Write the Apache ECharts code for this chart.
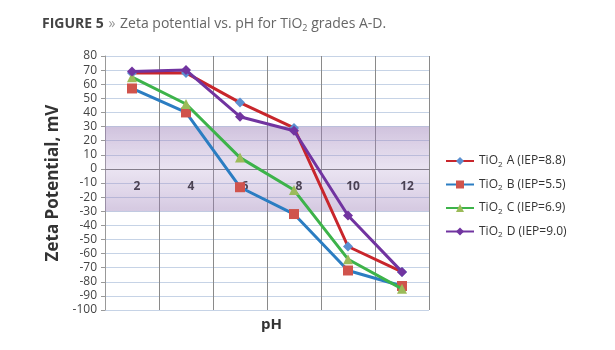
<!DOCTYPE html>
<html>
<head>
<meta charset="utf-8">
<script src="https://cdn.jsdelivr.net/npm/echarts@6/dist/echarts.min.js"></script>
<style>
html, body { margin: 0; padding: 0; background: #fff; }
#chart { width: 615px; height: 350px; }
</style>
</head>
<body>
<div id="chart"></div>
<script>
// pH categories
var phLabels = ['2', '4', '6', '8', '10', '12'];

// zeta potential (mV) per grade
var gradeA = [68, 68, 47, 29, -55, -73];
var gradeB = [57, 40, -13, -32, -72, -83];
var gradeC = [65, 46, 8, -15, -64, -85];
var gradeD = [69, 70, 37, 27, -33, -73];

var gradeNames = ['A (IEP=8.8)', 'B (IEP=5.5)', 'C (IEP=6.9)', 'D (IEP=9.0)'];

// shaded band limits
var bandTop = 30;
var bandBottom = -30;

var chart = echarts.init(document.getElementById('chart'));

function makeSeries(idx, data, lineColor, markColor, symbol, size) {
    return {
        name: 'TiO2 ' + gradeNames[idx],
        type: 'line',
        data: data,
        symbol: symbol,
        symbolSize: size,
        lineStyle: { color: lineColor, width: 3 },
        itemStyle: { color: markColor },
        color: lineColor,
        z: 3 + idx
    };
}

var series = [
    makeSeries(0, gradeA, '#c8262c', '#5b8fd0', 'diamond', 10),
    makeSeries(1, gradeB, '#2b7dc2', '#d0534c', 'rect', 10),
    makeSeries(2, gradeC, '#3db34a', '#9bbb59', 'triangle', 10),
    makeSeries(3, gradeD, '#7134a0', '#7134a0', 'diamond', 10)
];

// purple band, drawn under the lines
series[0].markArea = {
    silent: true,
    label: { show: false },
    itemStyle: {
        color: {
            type: 'linear', x: 0, y: 0, x2: 0, y2: 1,
            colorStops: [
                { offset: 0, color: 'rgba(150,120,180,0.45)' },
                { offset: 0.5, color: 'rgba(170,145,200,0.25)' },
                { offset: 1, color: 'rgba(150,120,180,0.40)' }
            ]
        }
    },
    data: [[{ yAxis: bandTop }, { yAxis: bandBottom }]]
};

var option = {
    animation: false,
    textStyle: { fontFamily: 'Open Sans' },
    title: [
        {
            left: 37,
            top: 10,
            text: '{b|FIGURE 5} {g|»} {r|Zeta potential vs. pH for TiO}{s|2}{r| grades A-D.}',
            textStyle: {
                rich: {
                    b: { fontSize: 14, fontWeight: 'bold', color: '#444', fontFamily: 'Open Sans' },
                    g: { fontSize: 14, fontWeight: 'normal', color: '#999', fontFamily: 'Open Sans' },
                    r: { fontSize: 14, fontWeight: 'normal', color: '#666', fontFamily: 'Open Sans' },
                    s: { fontSize: 9, fontWeight: 'normal', color: '#666', fontFamily: 'Open Sans', padding: [8, 0, 0, 0] }
                }
            }
        },
        {
            left: 256,
            top: 312,
            text: 'pH',
            textStyle: { fontSize: 15, fontWeight: 'bold', color: '#333', fontFamily: 'Open Sans' }
        }
    ],
    legend: {
        orient: 'vertical',
        left: 440,
        top: 150,
        itemWidth: 28,
        itemHeight: 10,
        itemGap: 10,
        data: series.map(function (s) { return s.name; }),
        formatter: function (name) {
            return '{n|TiO}{s|2}{n|' + name.slice(4) + '}';
        },
        textStyle: {
            rich: {
                n: { fontSize: 12, color: '#333', fontFamily: 'Open Sans' },
                s: { fontSize: 8, color: '#333', fontFamily: 'Open Sans', padding: [7, 1, 0, 0] }
            }
        }
    },
    grid: { left: 105, right: 186, top: 56, bottom: 40 },
    xAxis: {
        type: 'category',
        data: phLabels,
        boundaryGap: true,
        position: 'bottom',
        offset: -141,
        axisLine: { onZero: false, lineStyle: { color: '#777', width: 1 } },
        axisTick: { show: false },
        axisLabel: {
            fontSize: 12, fontWeight: 'bold', color: '#222', margin: 12,
            padding: [0, 0, 0, 10]
        },
        splitLine: { show: true, lineStyle: { color: '#8a8a8a', width: 1 } }
    },
    yAxis: {
        type: 'value',
        min: -100,
        max: 80,
        interval: 10,
        name: 'Zeta Potential, mV',
        nameLocation: 'middle',
        nameGap: 38,
        nameTextStyle: { fontSize: 17, fontWeight: 'bold', color: '#333', fontFamily: 'Open Sans' },
        axisLine: { show: true, lineStyle: { color: '#999' } },
        axisTick: { show: true, length: 4, lineStyle: { color: '#999' } },
        axisLabel: { fontSize: 12, color: '#444', margin: 8 },
        splitLine: { show: true, lineStyle: { color: '#c6d3e6', width: 1 } }
    },
    series: series
};

chart.setOption(option);
</script>
</body>
</html>
